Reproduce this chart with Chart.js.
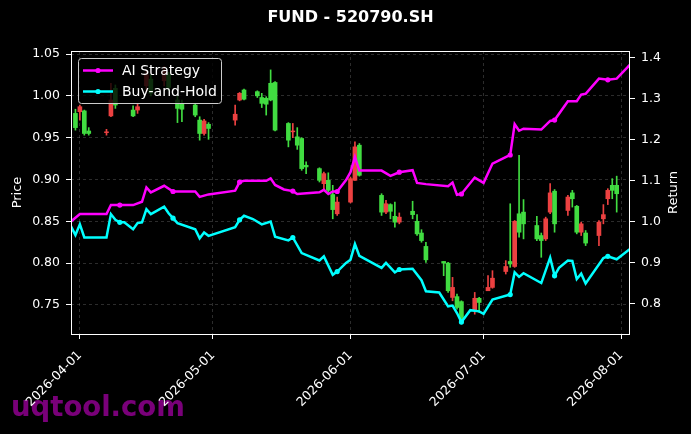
<!DOCTYPE html>
<html>
<head>
<meta charset="utf-8">
<style>
html, body { margin: 0; padding: 0; background: #000; }
canvas { display: block; }
</style>
<script src="https://cdn.jsdelivr.net/npm/chart.js@4.4.1/dist/chart.umd.min.js"></script>
</head>
<body>
<canvas id="chart" width="691" height="434"></canvas>
<script>
// days are counted from 2026-03-30 (day 0)
const tickDays = [2, 32, 63, 93, 124];
const tickLabels = ['2026-04-01', '2026-05-01', '2026-06-01', '2026-07-01', '2026-08-01'];
const priceTicks = [0.75, 0.80, 0.85, 0.90, 0.95, 1.00, 1.05];
const returnTicks = [0.8, 0.9, 1.0, 1.1, 1.2, 1.3, 1.4];

// candles (price axis)
const candleDays = [1, 2, 3, 4, 8, 9, 10, 14, 15, 17, 18, 21, 22, 24, 25, 28, 29, 30, 31,
  37, 38, 39, 42, 43, 44, 45, 46, 49, 50, 51, 52, 53, 56, 57, 58, 59, 60,
  63, 64, 65, 70, 71, 72, 73, 74, 77, 78, 79, 80, 84, 85, 86, 87, 88, 91, 92,
  94, 95, 98, 99, 100, 101, 102, 105, 106, 107, 108, 109, 112, 113, 114, 115, 116,
  119, 120, 121, 122, 123];
const candleOpen = [0.979, 0.981, 0.982, 0.958, 0.956, 0.976, 1.009, 0.983, 0.983, 1.012, 1.020, 1.018, 1.025, 0.995, 0.990, 0.989, 0.971, 0.955, 0.966,
  0.971, 0.995, 1.007, 1.005, 0.998, 0.997, 1.015, 1.016, 0.967, 0.957, 0.951, 0.949, 0.917, 0.913, 0.895, 0.899, 0.882, 0.859,
  0.873, 0.899, 0.941, 0.881, 0.861, 0.870, 0.856, 0.849, 0.862, 0.850, 0.836, 0.820, 0.802, 0.800, 0.759, 0.760, 0.754, 0.743, 0.758,
  0.767, 0.771, 0.790, 0.802, 0.796, 0.859, 0.861, 0.845, 0.833, 0.829, 0.861, 0.886, 0.863, 0.884, 0.868, 0.837, 0.836,
  0.833, 0.853, 0.877, 0.893, 0.893];
const candleHigh = [0.984, 0.989, 0.983, 0.962, 0.960, 1.015, 1.013, 0.988, 0.991, 1.030, 1.025, 1.035, 1.028, 1.000, 0.995, 0.991, 0.975, 0.972, 0.968,
  0.989, 1.004, 1.008, 1.006, 1.003, 0.999, 1.031, 1.017, 0.968, 0.967, 0.962, 0.950, 0.921, 0.914, 0.909, 0.908, 0.893, 0.879,
  0.903, 0.945, 0.943, 0.883, 0.875, 0.871, 0.873, 0.860, 0.874, 0.858, 0.840, 0.825, 0.802, 0.801, 0.783, 0.763, 0.755, 0.765, 0.759,
  0.785, 0.791, 0.803, 0.871, 0.851, 0.929, 0.876, 0.856, 0.836, 0.855, 0.895, 0.888, 0.881, 0.887, 0.869, 0.849, 0.839,
  0.851, 0.870, 0.889, 0.901, 0.904];
const candleLow = [0.959, 0.971, 0.953, 0.953, 0.953, 0.975, 0.985, 0.975, 0.979, 1.005, 1.000, 1.012, 1.006, 0.968, 0.969, 0.975, 0.947, 0.953, 0.948,
  0.965, 0.994, 0.995, 0.998, 0.986, 0.977, 0.994, 0.958, 0.939, 0.950, 0.936, 0.911, 0.907, 0.897, 0.887, 0.885, 0.853, 0.857,
  0.872, 0.899, 0.904, 0.857, 0.859, 0.853, 0.843, 0.847, 0.853, 0.833, 0.825, 0.801, 0.785, 0.765, 0.755, 0.745, 0.729, 0.739, 0.741,
  0.767, 0.770, 0.787, 0.795, 0.795, 0.831, 0.829, 0.827, 0.807, 0.827, 0.859, 0.837, 0.857, 0.867, 0.835, 0.833, 0.821,
  0.821, 0.847, 0.870, 0.877, 0.861];
const candleClose = [0.962, 0.987, 0.955, 0.955, 0.957, 0.995, 0.989, 0.976, 0.987, 1.025, 1.003, 1.030, 1.010, 0.985, 0.984, 0.977, 0.955, 0.970, 0.961,
  0.978, 1.003, 0.996, 1.000, 0.991, 0.990, 0.995, 0.959, 0.947, 0.958, 0.941, 0.913, 0.915, 0.899, 0.907, 0.887, 0.864, 0.873,
  0.901, 0.939, 0.905, 0.861, 0.871, 0.862, 0.849, 0.855, 0.858, 0.835, 0.827, 0.804, 0.800, 0.767, 0.771, 0.747, 0.731, 0.758, 0.753,
  0.771, 0.782, 0.796, 0.799, 0.850, 0.837, 0.847, 0.829, 0.827, 0.853, 0.884, 0.847, 0.879, 0.877, 0.837, 0.847, 0.824,
  0.849, 0.858, 0.887, 0.887, 0.883];

// return lines (return axis)
const aiDays = [0, 2, 8, 9, 11, 14, 16, 17, 18, 21, 23, 28, 29, 31, 37, 38, 39, 44, 45, 46, 48, 50, 51, 56, 57, 58, 59, 60,
  62, 63, 64, 65, 70, 72, 74, 77, 78, 80, 85, 86, 87, 88, 91, 93, 95, 99, 100, 101, 102, 106, 108, 109,
  112, 114, 115, 116, 119, 121, 123, 126];
const aiReturn = [1.001, 1.019, 1.019, 1.041, 1.041, 1.041, 1.049, 1.084, 1.072, 1.088, 1.074, 1.074, 1.061, 1.067, 1.076, 1.097, 1.100, 1.100, 1.106, 1.090, 1.079, 1.075, 1.068, 1.072, 1.078, 1.068, 1.074, 1.074,
  1.102, 1.121, 1.158, 1.125, 1.125, 1.112, 1.121, 1.126, 1.095, 1.092, 1.087, 1.096, 1.066, 1.068, 1.108, 1.095, 1.142, 1.163, 1.238, 1.222, 1.227, 1.225, 1.246, 1.248,
  1.294, 1.294, 1.310, 1.312, 1.349, 1.346, 1.349, 1.383];
const bhDays = [0, 1, 2, 3, 8, 9, 10, 11, 12, 14, 15, 16, 17, 18, 21, 22, 23, 24, 28, 29, 30, 31, 37, 38, 39, 41, 43, 45, 46, 49, 50,
  52, 56, 57, 59, 60, 62, 63, 64, 65, 70, 71, 73, 74, 77, 79, 80, 83, 85, 86, 87, 88, 90, 92, 93, 95, 99,
  100, 101, 102, 106, 108, 109, 110, 112, 113, 114, 115, 116, 120, 121, 123, 126];
const bhReturn = [0.989, 0.968, 0.994, 0.962, 0.962, 1.019, 1.005, 0.999, 0.999, 0.982, 0.997, 0.999, 1.031, 1.019, 1.037, 1.021, 1.009, 0.997, 0.982, 0.960, 0.974, 0.966, 0.987, 1.005, 1.015, 1.007, 0.994, 1.001, 0.964, 0.955, 0.962,
  0.924, 0.906, 0.916, 0.871, 0.879, 0.900, 0.908, 0.946, 0.917, 0.888, 0.900, 0.877, 0.884, 0.886, 0.858, 0.831, 0.828, 0.794, 0.796, 0.778, 0.756, 0.785, 0.782, 0.776, 0.811, 0.823,
  0.877, 0.866, 0.875, 0.851, 0.913, 0.869, 0.888, 0.906, 0.905, 0.861, 0.874, 0.850, 0.912, 0.916, 0.909, 0.934];
const markerDays = [11, 23, 38, 50, 60, 74, 88, 99, 109, 121];

const UP = '#ec4141';
const DOWN = '#41dc41';
const AI_COLOR = '#ff00ff';
const BH_COLOR = '#00ffff';
const GRID = 'rgba(255,255,255,0.22)';

Chart.defaults.font.family = "'DejaVu Sans', sans-serif";
Chart.defaults.color = '#ffffff';

const candleColors = candleDays.map((d, i) => candleClose[i] >= candleOpen[i] ? UP : DOWN);
const wickData = candleDays.map((d, i) => ({ x: d, y: [candleLow[i], candleHigh[i]] }));
const bodyData = candleDays.map((d, i) => ({ x: d, y: [candleOpen[i], candleClose[i]] }));
const aiData = aiDays.map((d, i) => ({ x: d, y: aiReturn[i] }));
const bhData = bhDays.map((d, i) => ({ x: d, y: bhReturn[i] }));

const markerRadius = c => (c.raw && markerDays.includes(c.raw.x)) ? 2.6 : 0;

const decorations = {
  id: 'decorations',
  beforeDraw(chart) {
    const ctx = chart.ctx;
    ctx.save();
    ctx.fillStyle = '#000';
    ctx.fillRect(0, 0, chart.width, chart.height);
    // watermark, under the tick labels
    ctx.textAlign = 'left';
    ctx.textBaseline = 'alphabetic';
    ctx.font = "bold 27.5px 'DejaVu Sans'";
    ctx.fillStyle = 'rgba(128,0,128,0.95)';
    ctx.fillText('uqtool.com', 11, 416);
    ctx.restore();
  },
  afterDatasetsDraw(chart) {
    const ctx = chart.ctx;
    // legend box
    ctx.save();
    const bx = 78.5, by = 58.5, bw = 143, bh = 45;
    ctx.beginPath();
    ctx.roundRect(bx, by, bw, bh, 3);
    ctx.fillStyle = 'rgba(0,0,0,0.8)';
    ctx.fill();
    ctx.strokeStyle = '#cccccc';
    ctx.lineWidth = 1;
    ctx.stroke();
    const items = [['AI Strategy', AI_COLOR, 70.5], ['Buy-and-Hold', BH_COLOR, 91.5]];
    ctx.font = "14px 'DejaVu Sans'";
    ctx.textBaseline = 'middle';
    for (const [label, color, y] of items) {
      ctx.strokeStyle = color;
      ctx.lineWidth = 2.5;
      ctx.beginPath();
      ctx.moveTo(83, y);
      ctx.lineTo(113, y);
      ctx.stroke();
      ctx.fillStyle = color;
      ctx.beginPath();
      ctx.arc(98, y, 2.6, 0, Math.PI * 2);
      ctx.fill();
      ctx.fillStyle = '#ffffff';
      ctx.fillText(label, 122, y + 0.5);
    }
    ctx.restore();
  },
  afterDraw(chart) {
    const ctx = chart.ctx;
    const a = chart.chartArea;
    ctx.save();
    // frame
    ctx.strokeStyle = '#ffffff';
    ctx.lineWidth = 1;
    ctx.strokeRect(a.left + 0.5, a.top + 0.5, a.right - a.left - 1, a.bottom - a.top);
    // title
    ctx.fillStyle = '#ffffff';
    ctx.textAlign = 'center';
    ctx.textBaseline = 'middle';
    ctx.font = "bold 16px 'DejaVu Sans'";
    ctx.fillText('FUND - 520790.SH', (a.left + a.right) / 2, 18);
    // axis titles
    ctx.font = "13px 'DejaVu Sans'";
    const midY = (a.top + a.bottom) / 2;
    ctx.save();
    ctx.translate(17.5, midY);
    ctx.rotate(-Math.PI / 2);
    ctx.fillText('Price', 0, 0);
    ctx.restore();
    ctx.save();
    ctx.translate(673.5, midY);
    ctx.rotate(-Math.PI / 2);
    ctx.fillText('Return', 0, 0);
    ctx.restore();
    ctx.restore();
  }
};

new Chart(document.getElementById('chart'), {
  type: 'bar',
  data: {
    datasets: [
      {
        type: 'line', label: 'AI Strategy', data: aiData, yAxisID: 'y1',
        borderColor: AI_COLOR, backgroundColor: AI_COLOR, borderWidth: 2.5,
        pointRadius: markerRadius, pointBorderWidth: 0, tension: 0, order: 0
      },
      {
        type: 'line', label: 'Buy-and-Hold', data: bhData, yAxisID: 'y1',
        borderColor: BH_COLOR, backgroundColor: BH_COLOR, borderWidth: 2.5,
        pointRadius: markerRadius, pointBorderWidth: 0, tension: 0, order: 0
      },
      {
        label: 'wick', data: wickData, yAxisID: 'y', backgroundColor: candleColors,
        barThickness: 1, grouped: false, borderWidth: 0, order: 2
      },
      {
        label: 'body', data: bodyData, yAxisID: 'y', backgroundColor: candleColors,
        barThickness: 4, grouped: false, borderWidth: 0, order: 1
      }
    ]
  },
  options: {
    responsive: false,
    animation: false,
    devicePixelRatio: 1,
    layout: { padding: { top: 51, left: 0, right: 0, bottom: 0 } },
    plugins: { legend: { display: false }, tooltip: { enabled: false }, title: { display: false } },
    scales: {
      x: {
        type: 'linear', min: 0, max: 126, offset: false,
        afterBuildTicks: s => { s.ticks = tickDays.map(v => ({ value: v })); },
        afterFit: s => { s.height = 100; },
        grid: { offset: false, color: GRID, lineWidth: 0.8, tickColor: '#ffffff', tickLength: 5, tickWidth: 1, tickBorderDash: [] },
        border: { display: false, dash: [3, 3] },
        ticks: {
          color: '#ffffff', font: { size: 12.5 }, minRotation: 45, maxRotation: 45, autoSkip: false, padding: 9,
          callback: v => { const i = tickDays.indexOf(v); return i >= 0 ? tickLabels[i] : ''; }
        }
      },
      y: {
        position: 'left', min: 0.7153, max: 1.0536,
        afterBuildTicks: s => { s.ticks = priceTicks.map(v => ({ value: v })); },
        afterFit: s => { s.width = 71; },
        grid: { color: GRID, lineWidth: 0.8, tickColor: '#ffffff', tickLength: 5, tickWidth: 1, tickBorderDash: [] },
        border: { display: false, dash: [3, 3] },
        ticks: { color: '#ffffff', font: { size: 12.5 }, padding: 6, callback: v => v.toFixed(2) }
      },
      y1: {
        position: 'right', min: 0.7269, max: 1.4163,
        afterBuildTicks: s => { s.ticks = returnTicks.map(v => ({ value: v })); },
        afterFit: s => { s.width = 61; },
        grid: { drawOnChartArea: false, tickColor: '#ffffff', tickLength: 5, tickWidth: 1 },
        border: { display: false },
        ticks: { color: '#ffffff', font: { size: 12.5 }, padding: 6, callback: v => v.toFixed(1) }
      }
    }
  },
  plugins: [decorations]
});
</script>
</body>
</html>
